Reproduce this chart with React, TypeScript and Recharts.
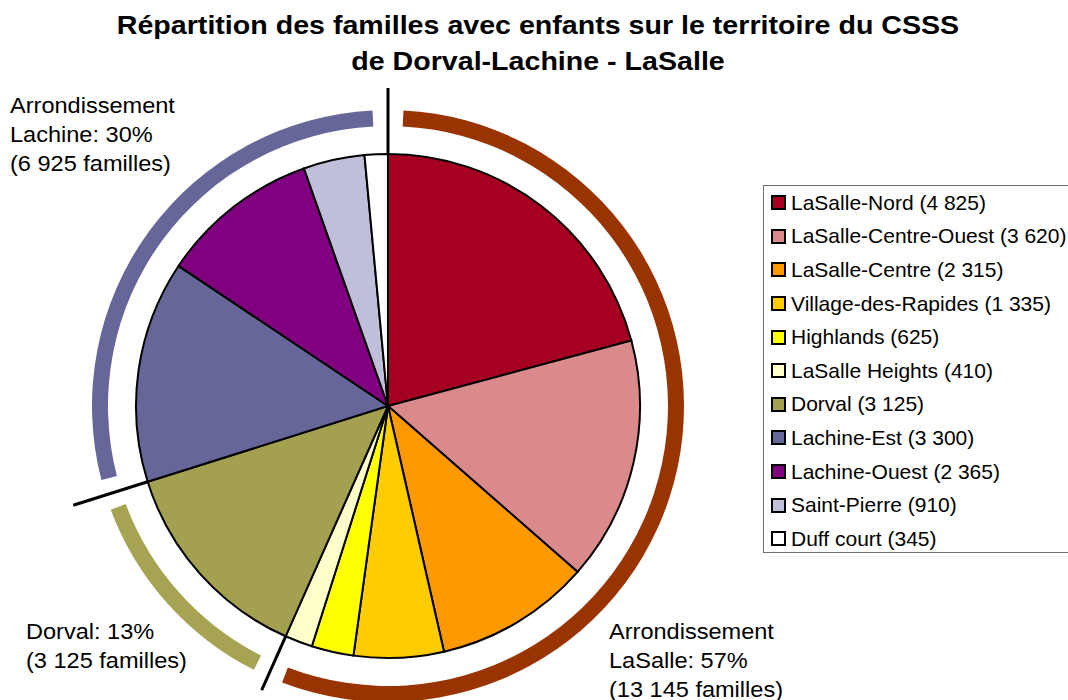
import React from 'react';
import { PieChart, Pie, Cell, Legend, Sector } from 'recharts';

// districts (CLSC sectors) and number of families with children
const districts = [
  'LaSalle-Nord',
  'LaSalle-Centre-Ouest',
  'LaSalle-Centre',
  'Village-des-Rapides',
  'Highlands',
  'LaSalle Heights',
  'Dorval',
  'Lachine-Est',
  'Lachine-Ouest',
  'Saint-Pierre',
  'Duff court',
];
const families = [4825, 3620, 2315, 1335, 625, 410, 3125, 3300, 2365, 910, 345];
const districtColors = [
  '#A50021', '#DA8A8B', '#FF9900', '#FFCC00', '#FFFF00', '#FFFFCC',
  '#A3A150', '#666699', '#800080', '#BFBFD9', '#FFFFFF',
];

// boroughs (outer ring)
const boroughs = ['Arr. LaSalle', 'Arr. Dorval', 'Arr. Lachine'];
const boroughFamilies = [13130, 3125, 6920];
const boroughColors = ['#993300', '#A6A452', '#666699'];

const sliceData = districts.map((name, i) => ({ name, value: families[i] }));
const boroughData = boroughs.map((name, i) => ({ name, value: boroughFamilies[i] }));

const FONT = 'Arial, "Liberation Sans", sans-serif';
const CX = 388;
const CY = 406;
const PIE_R = 252;
const GAP = 3;
const LINE_REACH = [318, 311, 330];

const fmt = (v: number) => String(v).replace(/\B(?=(\d{3})+(?!\d))/g, ' ');

const polar = (cx: number, cy: number, r: number, angle: number) => ({
  x: cx + r * Math.cos((-angle * Math.PI) / 180),
  y: cy + r * Math.sin((-angle * Math.PI) / 180),
});

// outer arc for each borough + black separator line at its start edge
const renderBoroughMarks = (props: any) => {
  const { cx, cy, startAngle, endAngle, index } = props;
  const p1 = polar(cx, cy, PIE_R, startAngle);
  const p2 = polar(cx, cy, LINE_REACH[index], startAngle);
  return (
    <g key={`borough-${index}`}>
      <Sector
        cx={cx}
        cy={cy}
        innerRadius={280}
        outerRadius={296}
        startAngle={startAngle - GAP}
        endAngle={endAngle + GAP}
        fill={boroughColors[index]}
        stroke="none"
      />
      <line x1={p1.x} y1={p1.y} x2={p2.x} y2={p2.y} stroke="#000" strokeWidth={3} />
    </g>
  );
};

// legend keeps the data order of the districts
const renderLegend = () => (
  <div
    style={{
      width: 320,
      height: 368,
      border: '1px solid #707070',
      background: '#fff',
      fontFamily: FONT,
      fontSize: 21,
      color: '#000',
      boxSizing: 'border-box',
    }}
  >
    {districts.map((name, i) => (
      <div key={name} style={{ display: 'flex', alignItems: 'center', height: 33.6, whiteSpace: 'nowrap' }}>
        <span
          style={{
            display: 'inline-block',
            width: 15,
            height: 15,
            marginLeft: 7,
            marginRight: 5,
            border: '2px solid #000',
            boxSizing: 'border-box',
            background: districtColors[i],
          }}
        />
        <span>{`${name} (${fmt(families[i])})`}</span>
      </div>
    ))}
  </div>
);

const textBlock = (left: number, top: number, lines: string[]) => (
  <div
    style={{
      position: 'absolute',
      left,
      top,
      fontFamily: FONT,
      fontSize: 22,
      lineHeight: '29px',
      color: '#000',
      whiteSpace: 'nowrap',
      transform: 'scaleX(1.07)',
      transformOrigin: 'left top',
    }}
  >
    {lines.map((l) => (
      <div key={l}>{l}</div>
    ))}
  </div>
);

export default function App() {
  return (
    <div
      style={{
        position: 'absolute',
        left: 0,
        top: 0,
        width: 1068,
        height: 700,
        overflow: 'hidden',
        background: '#fff',
      }}
    >
      <div
        style={{
          position: 'absolute',
          left: 38,
          top: 7,
          width: 1000,
          textAlign: 'center',
          fontFamily: FONT,
          fontWeight: 'bold',
          fontSize: 26,
          lineHeight: '36px',
          color: '#000',
          transform: 'scaleX(1.1)',
          transformOrigin: 'center top',
        }}
      >
        <div>Répartition des familles avec enfants sur le territoire du CSSS</div>
        <div>de Dorval-Lachine - LaSalle</div>
      </div>

      <PieChart width={1068} height={700} margin={{ top: 0, right: 0, bottom: 0, left: 0 }}>
        <Pie
          data={sliceData}
          dataKey="value"
          nameKey="name"
          cx={CX}
          cy={CY}
          innerRadius={0}
          outerRadius={PIE_R}
          startAngle={90}
          endAngle={-270}
          stroke="#000"
          strokeWidth={2}
          isAnimationActive={false}
        >
          {sliceData.map((d, i) => (
            <Cell key={d.name} fill={districtColors[i]} />
          ))}
        </Pie>
        <Pie
          data={boroughData}
          dataKey="value"
          nameKey="name"
          cx={CX}
          cy={CY}
          innerRadius={280}
          outerRadius={296}
          startAngle={90}
          endAngle={-270}
          fill="none"
          stroke="none"
          legendType="none"
          label={renderBoroughMarks}
          labelLine={false}
          isAnimationActive={false}
        />
        <Legend
          content={renderLegend}
          wrapperStyle={{ position: 'absolute', left: 763, top: 185, width: 320, height: 368 }}
        />
      </PieChart>

      {textBlock(10, 91, ['Arrondissement', 'Lachine: 30%', '(6 925 familles)'])}
      {textBlock(26, 617, ['Dorval: 13%', '(3 125 familles)'])}
      {textBlock(609, 617, ['Arrondissement', 'LaSalle: 57%', '(13 145 familles)'])}
    </div>
  );
}
